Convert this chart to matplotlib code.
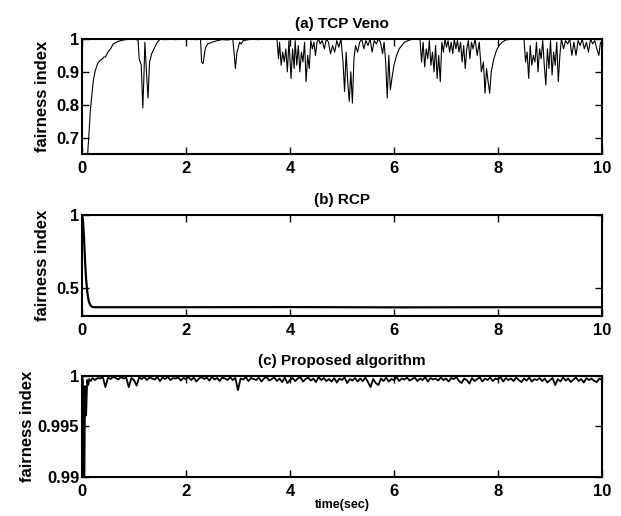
import numpy as np
import matplotlib
matplotlib.use("Agg")
import matplotlib.pyplot as plt

plt.rcParams['font.family'] = ['Liberation Sans', 'DejaVu Sans']
plt.rcParams['font.weight'] = 'bold'

# (a) TCP Veno
t_veno = [0.00, 0.05, 0.10, 0.13, 0.16, 0.19, 0.22, 0.25, 0.30, 0.35, 0.40, 0.42, 0.45,
          0.50, 0.55, 0.60, 0.70, 0.80, 0.90, 1.00, 1.05, 1.08, 1.10, 1.12, 1.14, 1.17,
          1.19, 1.21, 1.24, 1.27, 1.30, 1.34, 1.40, 1.45, 1.50, 1.60, 1.70, 1.80, 1.90,
          2.00, 2.10, 2.20, 2.28, 2.30, 2.33, 2.36, 2.38, 2.42, 2.50, 2.60, 2.70, 2.80,
          2.90, 2.93, 2.95, 2.98, 3.00, 3.03, 3.06, 3.10, 3.20, 3.30, 3.40, 3.50, 3.60,
          3.70, 3.75, 3.78, 3.80, 3.83, 3.86, 3.89, 3.92, 3.95, 3.98, 4.00, 4.02, 4.05,
          4.08, 4.10, 4.13, 4.16, 4.19, 4.22, 4.25, 4.28, 4.31, 4.34, 4.37, 4.40, 4.43,
          4.46, 4.49, 4.52, 4.55, 4.58, 4.62, 4.66, 4.70, 4.74, 4.78, 4.82, 4.86, 4.90,
          4.94, 4.98, 5.02, 5.05, 5.08, 5.11, 5.14, 5.17, 5.20, 5.23, 5.26, 5.30, 5.34,
          5.38, 5.42, 5.46, 5.50, 5.54, 5.58, 5.62, 5.66, 5.70, 5.74, 5.78, 5.81, 5.84,
          5.87, 5.90, 5.93, 5.96, 6.00, 6.05, 6.10, 6.15, 6.20, 6.30, 6.40, 6.50, 6.53,
          6.56, 6.59, 6.62, 6.65, 6.68, 6.71, 6.74, 6.77, 6.80, 6.83, 6.86, 6.89, 6.92,
          6.95, 6.98, 7.01, 7.04, 7.07, 7.10, 7.13, 7.16, 7.19, 7.22, 7.25, 7.28, 7.31,
          7.34, 7.37, 7.40, 7.43, 7.46, 7.49, 7.52, 7.56, 7.60, 7.64, 7.68, 7.72, 7.75,
          7.78, 7.81, 7.84, 7.87, 7.92, 7.97, 8.02, 8.08, 8.15, 8.25, 8.35, 8.45, 8.50,
          8.53, 8.56, 8.59, 8.62, 8.65, 8.68, 8.71, 8.74, 8.77, 8.80, 8.83, 8.86, 8.89,
          8.92, 8.95, 8.98, 9.01, 9.04, 9.07, 9.10, 9.13, 9.16, 9.19, 9.22, 9.26, 9.30,
          9.34, 9.38, 9.42, 9.46, 9.50, 9.54, 9.58, 9.62, 9.66, 9.70, 9.74, 9.78, 9.82,
          9.86, 9.90, 9.94, 9.97, 10.00]
f_veno = [0.55, 0.58, 0.63, 0.70, 0.78, 0.83, 0.875, 0.90, 0.925, 0.935, 0.94, 0.945, 0.945,
          0.96, 0.97, 0.985, 0.993, 0.997, 0.999, 0.999, 0.998, 0.995, 0.94, 0.93, 0.92, 0.79,
          0.88, 0.99, 0.90, 0.82, 0.93, 0.955, 0.975, 0.99, 0.999, 0.998, 0.999, 0.998, 0.999,
          1.0, 0.999, 0.998, 0.999, 0.93, 0.925, 0.96, 0.975, 0.985, 0.99, 0.995, 0.998, 0.997,
          0.999, 0.95, 0.91, 0.96, 0.97, 0.99, 0.985, 0.995, 0.998, 0.999, 0.998, 1.0, 0.999,
          1.0, 0.999, 0.94, 0.99, 0.92, 0.96, 0.93, 0.97, 0.90, 0.995, 0.94, 0.88, 0.97,
          0.91, 0.995, 0.92, 0.98, 0.90, 0.96, 0.93, 0.99, 0.87, 0.95, 0.91, 0.995, 0.97,
          0.99, 0.95, 0.99, 1.0, 0.985, 0.995, 0.97, 1.0, 0.99, 0.955, 0.98, 0.96, 0.995,
          0.975, 1.0, 0.93, 0.84, 0.96, 0.87, 0.81, 0.90, 0.805, 0.94, 0.98, 0.96, 0.99,
          1.0, 0.97, 0.995, 0.98, 1.0, 0.96, 0.995, 0.985, 1.0, 0.99, 0.955, 0.99, 0.93,
          0.82, 0.95, 0.845, 0.88, 0.92, 0.95, 0.97, 0.98, 0.99, 0.997, 1.0, 0.999, 0.93,
          0.99, 0.915, 0.97, 0.94, 0.995, 0.92, 0.96, 0.90, 0.98, 0.88, 0.95, 0.87, 0.99,
          0.96, 1.0, 0.975, 0.995, 0.96, 0.99, 0.955, 1.0, 0.97, 0.995, 0.96, 0.99, 0.93,
          0.98, 0.91, 0.97, 0.995, 0.94, 0.99, 0.97, 1.0, 0.95, 0.99, 0.90, 0.93, 0.835,
          0.91, 0.87, 0.835, 0.90, 0.94, 0.965, 0.98, 0.99, 0.997, 0.999, 1.0, 0.999, 1.0,
          0.93, 0.96, 0.88, 0.98, 0.92, 0.95, 0.93, 0.99, 0.90, 0.97, 0.94, 0.995, 0.92,
          0.86, 0.97, 0.91, 0.995, 0.89, 0.96, 0.92, 0.99, 0.87, 0.95, 1.0, 0.97, 0.995,
          0.985, 1.0, 0.95, 0.99, 0.95, 0.995, 0.98, 1.0, 0.97, 0.99, 0.96, 1.0, 0.985,
          0.995, 0.97, 0.95, 0.99, 0.985]

# (b) RCP
t_rcp = [0.00, 0.02, 0.04, 0.06, 0.08, 0.10, 0.12, 0.14, 0.17, 0.20, 0.25, 0.30, 1.0,
         2.0, 4.0, 6.0, 8.0, 10.0]
f_rcp = [1.0, 0.96, 0.84, 0.68, 0.56, 0.48, 0.43, 0.40, 0.38, 0.372, 0.37, 0.37, 0.37,
         0.37, 0.371, 0.369, 0.37, 0.37]

# (c) Proposed algorithm
t_prop = [0.00, 0.02, 0.04, 0.06, 0.08, 0.10, 0.12, 0.14, 0.17, 0.20, 0.25, 0.30] + \
         list(np.round(np.arange(0.35, 10.001, 0.05), 2))
f_prop = [0.9999, 0.9995, 0.9850, 0.9990, 0.9961, 0.9996, 0.9991, 0.9997, 0.9995, 0.9998,
          0.9996, 0.9998,
          .99975, .99990, .99890, .99985, .99970, .99992, .99980, .99965, .99990, .99975,
          .99985, .99890, .99980, .99960, .99905, .99985, .99970, .99990, .99960, .99985,
          .99975, .99965, .99990, .99950, .99985, .99970, .99992, .99960, .99980, .99975,
          .99988, .99955, .99980, .99970, .99990, .99960, .99985, .99945, .99975, .99990,
          .99970, .99985, .99955, .99990, .99965, .99980, .99950, .99985, .99975, .99960,
          .99988, .99960, .99980, .99860, .99975, .99965, .99990, .99950, .99980, .99970,
          .99960, .99985, .99945, .99975, .99990, .99955, .99970, .99985, .99950, .99975,
          .99940, .99985, .99930, .99960, .99980, .99950, .99975, .99990, .99945, .99970,
          .99985, .99955, .99975, .99940, .99990, .99960, .99980, .99950, .99970, .99945,
          .99980, .99935, .99975, .99960, .99985, .99930, .99970, .99955, .99980, .99945,
          .99975, .99950, .99985, .99940, .99890, .99970, .99930, .99910, .99975, .99950,
          .99985, .99945, .99970, .99960, .99990, .99950, .99975, .99965, .99985, .99955,
          .99970, .99985, .99950, .99975, .99960, .99990, .99945, .99980, .99965, .99975,
          .99955, .99985, .99960, .99975, .99945, .99980, .99970, .99990, .99950, .99930,
          .99975, .99960, .99925, .99980, .99950, .99970, .99985, .99945, .99975, .99960,
          .99985, .99950, .99975, .99965, .99990, .99945, .99980, .99960, .99975, .99950,
          .99985, .99960, .99940, .99975, .99955, .99985, .99945, .99970, .99960, .99980,
          .99950, .99975, .99935, .99960, .99980, .99910, .99970, .99945, .99985, .99955,
          .99975, .99940, .99965, .99985, .99950, .99970, .99935, .99980, .99960, .99975,
          .99950, .99940, .99975, .99960]

x_ticks = [0, 2, 4, 6, 8, 10]

fig = plt.figure(figsize=(6.21, 5.16), dpi=100)
ax_a = fig.add_axes([0.132, 0.7016, 0.8374, 0.2229])
ax_b = fig.add_axes([0.132, 0.3876, 0.8374, 0.1957])
ax_c = fig.add_axes([0.132, 0.0756, 0.8374, 0.1957])

ax_a.plot(t_veno, f_veno, color='black', lw=0.8)
ax_b.plot(t_rcp, f_rcp, color='black', lw=1.6)
ax_c.plot(t_prop, f_prop, color='black', lw=1.3)

ax_a.set_ylim(0.65, 1.0)
ax_a.set_yticks([0.7, 0.8, 0.9, 1.0])
ax_a.set_yticklabels(['0.7', '0.8', '0.9', '1'])
ax_b.set_ylim(0.31, 1.0)
ax_b.set_yticks([0.5, 1.0])
ax_b.set_yticklabels(['0.5', '1'])
ax_c.set_ylim(0.99, 1.0)
ax_c.set_yticks([0.99, 0.995, 1.0])
ax_c.set_yticklabels(['0.99', '0.995', '1'])

titles = ['(a) TCP Veno', '(b) RCP', '(c) Proposed algorithm']
label_x = [-0.062, -0.062, -0.090]
for ax, title, lx in zip([ax_a, ax_b, ax_c], titles, label_x):
    ax.set_xlim(0, 10)
    ax.set_xticks(x_ticks)
    ax.set_xticklabels([str(v) for v in x_ticks])
    ax.set_title(title, fontsize=11, fontweight='bold', pad=8)
    ax.set_ylabel('fairness index', fontsize=12, fontweight='bold')
    ax.yaxis.set_label_coords(lx, 0.5)
    ax.tick_params(direction='in', top=True, right=True, length=5, width=1,
                   labelsize=12)
    ax.tick_params(axis='x', pad=5)
    ax.tick_params(axis='y', pad=2)
    for lab in ax.get_xticklabels() + ax.get_yticklabels():
        lab.set_fontweight('bold')
    for sp in ax.spines.values():
        sp.set_linewidth(1.5)

ax_c.set_xlabel('time(sec)', fontsize=9, fontweight='bold', labelpad=0)

fig.savefig('out.png', dpi=100)
